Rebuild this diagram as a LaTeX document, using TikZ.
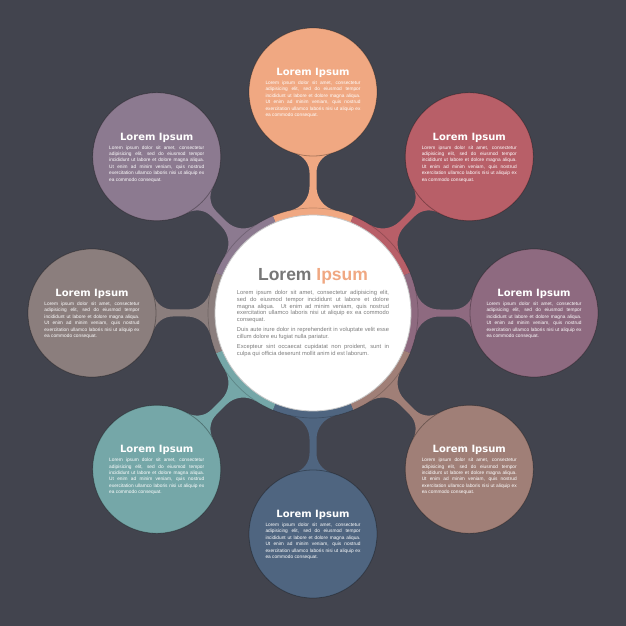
\documentclass[tikz,border=0pt]{standalone}
\usepackage{fontspec}
\newfontfamily\headfont{DejaVu Sans}
\newfontfamily\bodyfont{Liberation Sans}
\definecolor{bg}{HTML}{42444E}
\definecolor{cA}{HTML}{F0A882}
\definecolor{cB}{HTML}{B85F68}
\definecolor{cC}{HTML}{8E6A80}
\definecolor{cD}{HTML}{A07F77}
\definecolor{cE}{HTML}{4F6580}
\definecolor{cF}{HTML}{75A7A8}
\definecolor{cG}{HTML}{8B7E7D}
\definecolor{cH}{HTML}{8C7A90}
\definecolor{tgray}{HTML}{777777}
\definecolor{bgray}{HTML}{7C7C7C}
\newcommand{\tightpar}{\hyphenpenalty=10000\relax\tolerance=10000\relax}
\newcommand{\obody}{Lorem ipsum dolor sit amet, consectetur\linebreak adipisicing elit, sed do eiusmod tempor\linebreak incididunt ut labore et dolore magna aliqua.\linebreak Ut enim ad minim veniam, quis nostrud\linebreak exercitation ullamco laboris nisi ut aliquip ex\linebreak ea commodo consequat.}
\newcommand{\cbody}{\setlength{\parskip}{3.6pt}Lorem ipsum dolor sit amet, consectetur adipisicing elit,\linebreak sed do eiusmod tempor incididunt ut labore et dolore\linebreak magna aliqua. Ut enim ad minim veniam, quis nostrud\linebreak exercitation ullamco laboris nisi ut aliquip ex ea commodo\linebreak consequat.\par Duis aute irure dolor in reprehenderit in voluptate velit esse\linebreak cillum dolore eu fugiat nulla pariatur.\par Excepteur sint occaecat cupidatat non proident, sunt in\linebreak culpa qui officia deserunt mollit anim id est laborum.}
\tikzset{
  outer/.style={circle, minimum size=128pt, inner sep=0, draw=black, draw opacity=0.3, line width=0.8pt},
  otitle/.style={anchor=base, inner sep=0, text=white, font=\headfont\bfseries\fontsize{10}{12}\selectfont},
  otext/.style={anchor=north, inner sep=0, text width=95pt, align=justify, text=white,
    font=\bodyfont\fontsize{4.8}{6.4}\selectfont\tightpar},
  hubstyle/.style={circle, minimum size=196pt, inner sep=0, fill=white, draw=black!22, line width=0.8pt},
  ctitle/.style={anchor=base, inner sep=0, font=\bodyfont\bfseries\fontsize{17.5}{20}\selectfont},
  ctext/.style={anchor=north, inner sep=0, text width=152pt, align=justify, text=bgray,
    font=\bodyfont\fontsize{5.75}{6.7}\selectfont\tightpar},
}
\begin{document}
\begin{tikzpicture}[x=1pt,y=1pt]
\useasboundingbox (-313,-313) rectangle (313,313);
\fill[bg] (-313,-313) rectangle (313,313);
% stems
\foreach \a/\c in {90/cA,45/cB,0/cC,-45/cD,-90/cE,-135/cF,180/cG,135/cH}{
  \begin{scope}[rotate=\a]
    \fill[\c] (102.58,-22.38) arc[start angle=167.68, end angle=90, radius=24]
      -- (140.35,-3.5) arc[start angle=90, end angle=16.26, radius=20]
      -- (180,0) -- (159.55,17.90) arc[start angle=-16.26, end angle=-90, radius=20]
      -- (126.03,3.5) arc[start angle=-90, end angle=-167.68, radius=24]
      -- (92,0) -- cycle;
  \end{scope}
}
% ring segments
\foreach \a/\c in {90/cA,45/cB,0/cC,-45/cD,-90/cE,-135/cF,180/cG,135/cH}{
  \fill[\c] (0,0) -- (\a-22.5:105) arc[start angle=\a-22.5, end angle=\a+22.5, radius=105] -- cycle;
}
\draw[black, opacity=0.2, line width=0.7pt] (0,0) circle[radius=105];
% outer circles
\foreach \a/\c/\n in {90/cA/a,45/cB/b,0/cC/c,-45/cD/d,-90/cE/e,-135/cF/f,180/cG/g,135/cH/h}{
  \node[outer, fill=\c] (o\n) at (\a:221) {};
  \node[otitle] (t\n) at ([yshift=16.65pt]o\n.center) {Lorem Ipsum};
  \node[otext] (b\n) at ([yshift=11.25pt]o\n.center) {\obody};
}
% hub
\node[hubstyle] (hub) at (0,0) {};
\node[ctitle] (hubtitle) at ([yshift=32.2pt]hub.center) {\textcolor{tgray}{Lorem} \textcolor{cA}{Ipsum}};
\node[ctext] (hubtext) at ([yshift=22.7pt]hub.center) {\cbody};
\end{tikzpicture}
\end{document}
